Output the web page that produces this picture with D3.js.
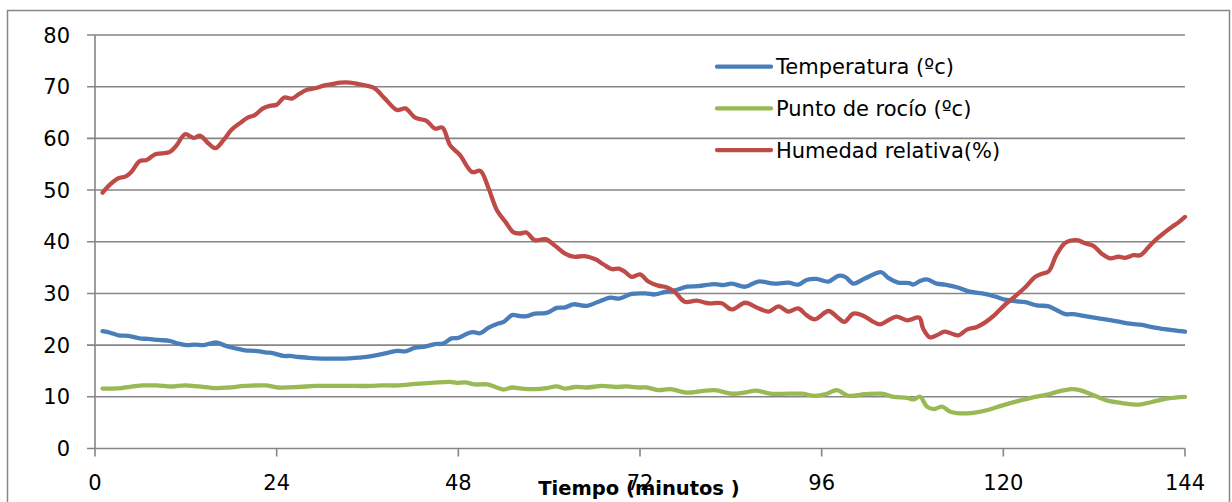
<!DOCTYPE html>
<html>
<head>
<meta charset="utf-8">
<script src="https://cdn.jsdelivr.net/npm/d3@7"></script>
<style>
  html, body { margin: 0; padding: 0; background: #fff; }
  svg { display: block; }
  text { font-family: "DejaVu Sans", sans-serif; fill: #000; }
</style>
</head>
<body>
<svg id="chart" width="1232" height="502"></svg>
<script>
// Temperatura (ºc)
const tempMin = [1,2,3.1,4.4,5.9,7,8.4,9.9,11,12.1,13.2,14.3,15.2,16.1,17.2,18.5,19.8,21.1,22.5,23.6,24.9,25.8,26.9,28.6,30.8,33,34.8,36.3,38.3,39.9,41,42.3,43.6,44.9,46,47.1,48,49.3,50,50.9,52,53.1,54,55.1,56.2,57,58.1,59.5,60.1,61,62.1,63.2,65,66.5,68.1,69.2,70.9,72.7,74,75.3,76.6,78.2,79.7,81.9,83,84.1,85.9,87.6,89.8,91.6,92.9,94,95.3,96.9,98.2,99.1,100.2,101.7,103.9,104.8,106.1,107.6,108.1,109,109.9,111.2,112.3,114.1,115.4,117.2,118.9,120.2,121.6,122.9,124.4,126,127,128.2,129.3,130.8,132.4,134.3,135.7,137,138.3,140,142.3,144];
const tempVal = [22.7,22.4,21.9,21.8,21.3,21.2,21.0,20.8,20.3,20.0,20.1,20.0,20.3,20.5,19.9,19.4,19.0,18.9,18.6,18.4,17.9,17.9,17.7,17.5,17.4,17.4,17.6,17.8,18.4,18.9,18.8,19.5,19.7,20.2,20.3,21.3,21.4,22.3,22.5,22.3,23.4,24.1,24.5,25.8,25.6,25.6,26.1,26.2,26.5,27.2,27.3,27.9,27.6,28.4,29.2,29.0,29.9,30.0,29.8,30.3,30.6,31.3,31.4,31.8,31.6,31.9,31.3,32.3,31.9,32.1,31.7,32.6,32.8,32.3,33.4,33.2,31.9,32.9,34.1,33.0,32.1,32.0,31.7,32.4,32.7,31.9,31.7,31.1,30.4,30.0,29.4,28.8,28.5,28.3,27.7,27.5,26.8,26.0,26.0,25.6,25.2,24.8,24.4,24.1,23.9,23.4,22.9,22.6];

// Punto de rocío (ºc)
const dewMin = [1,3.5,6.2,8.1,10.1,11.9,13.7,15.9,17.6,19.8,22.5,24.2,26.9,29.1,31.7,34.4,36.5,37.9,40.1,42.3,44.5,46.9,47.8,48.9,50.2,51.8,52.9,54,55.1,56.4,58.1,59.7,61,62.1,63.4,65,67,68.7,70.2,72,72.9,74.4,76,78.2,80.1,81.9,84.1,85.7,87.4,89.2,91.6,93.4,95.1,96.7,98,99.5,101.7,103.9,105.5,107.3,108.1,109,109.9,110.8,111.9,113,114.3,116,117.8,119.8,122,124.2,126,127.5,129,130.1,132.1,133.9,135.7,137.9,139.6,141.8,144];
const dewVal = [11.6,11.7,12.2,12.2,12.0,12.2,12.0,11.7,11.8,12.1,12.2,11.8,11.9,12.1,12.1,12.1,12.1,12.2,12.2,12.5,12.7,12.9,12.7,12.8,12.4,12.4,11.9,11.4,11.8,11.6,11.5,11.7,12.0,11.6,11.9,11.8,12.1,11.9,12.0,11.8,11.8,11.3,11.5,10.8,11.1,11.3,10.6,10.8,11.2,10.6,10.6,10.6,10.2,10.6,11.3,10.2,10.5,10.6,10.0,9.8,9.5,10.0,8.1,7.6,8.1,7.1,6.8,6.9,7.4,8.3,9.2,10.0,10.5,11.1,11.5,11.3,10.2,9.2,8.8,8.5,9.0,9.7,10.0];

// Humedad relativa(%)
const humMin = [1,2,3.1,4,4.8,5.9,6.8,7.9,8.8,9.9,10.8,11.9,13,13.9,15,15.9,17,18,19.2,20.3,21.1,22.2,23.1,24,25,26,26.9,28,29.1,30.2,31.3,32.4,33.7,34.8,36.8,38.3,39.9,41,42.3,43.8,44.9,45.9,46.9,48.2,49.8,50.9,52,53.1,54.2,55.3,56.2,57,58.1,59.5,60.8,62.1,63.2,64.7,66.1,67.2,68.3,69.2,70,70.9,72,73.1,74.4,75.5,76.6,77.9,79.5,81,82.8,84.1,85.9,87.4,89,90.3,91.6,92.9,94,95.1,96.9,98,99,100.2,101.5,102.6,103.7,104.8,105.9,107.3,108.9,109.4,110.3,111.2,112.2,113.2,114.1,115.2,116.5,117.6,118.9,120.2,121.6,122.9,124.2,125.1,126,127,128.2,129.7,130.8,131.9,133,134.1,135.2,136.1,137.2,138.1,139.2,140.3,141.4,142.3,143.1,144];
const humVal = [49.5,51.1,52.3,52.6,53.5,55.6,55.8,56.9,57.1,57.4,58.7,60.8,60.1,60.5,59.0,58.1,59.7,61.6,63.0,64.1,64.5,65.8,66.3,66.5,67.9,67.7,68.5,69.4,69.7,70.2,70.5,70.8,70.8,70.5,69.8,67.7,65.5,65.8,64.0,63.4,61.9,62.1,58.7,56.8,53.5,53.7,50.3,46.1,43.9,41.8,41.6,41.8,40.3,40.5,39.2,37.7,37.1,37.2,36.6,35.6,34.7,34.8,34.2,33.2,33.7,32.3,31.5,31.2,30.3,28.4,28.6,28.1,28.1,26.9,28.2,27.3,26.5,27.5,26.5,27.1,25.8,25.0,26.6,25.5,24.5,26.1,25.7,24.7,24.0,24.8,25.5,24.8,25.3,23.2,21.5,21.9,22.6,22.2,21.9,23.0,23.5,24.4,25.9,27.8,29.5,31.2,33.2,33.8,34.3,37.4,39.8,40.3,39.7,39.2,37.7,36.8,37.1,36.9,37.4,37.4,39.0,40.6,41.9,42.9,43.7,44.8];

const yTicks = [0, 10, 20, 30, 40, 50, 60, 70, 80];
const xTicks = [0, 24, 48, 72, 96, 120, 144];

const series = [
  { name: "Temperatura (ºc)", color: "#4A7EBB", x: tempMin, y: tempVal },
  { name: "Punto de rocío (ºc)", color: "#98B954", x: dewMin, y: dewVal },
  { name: "Humedad relativa(%)", color: "#BE4B48", x: humMin, y: humVal }
];

const svg = d3.select("#chart");
const gridColor = "#868686";

// chart frame
svg.append("rect")
  .attr("x", 7.5).attr("y", 10.5)
  .attr("width", 1222).attr("height", 500)
  .attr("fill", "#fff").attr("stroke", gridColor).attr("stroke-width", 1.5);

const x = d3.scaleLinear().domain([0, 144]).range([95, 1185]);
const y = d3.scaleLinear().domain([0, 80]).range([448.5, 35]);

// horizontal gridlines with outward tick stubs
svg.append("g")
  .selectAll("line")
  .data(yTicks)
  .join("line")
  .attr("x1", 87).attr("x2", x(144))
  .attr("y1", d => y(d)).attr("y2", d => y(d))
  .attr("stroke", gridColor).attr("stroke-width", 1.6);

// value axis line
svg.append("line")
  .attr("x1", x(0)).attr("x2", x(0))
  .attr("y1", y(80)).attr("y2", y(0))
  .attr("stroke", gridColor).attr("stroke-width", 1.6);

// y tick labels
svg.append("g")
  .selectAll("text")
  .data(yTicks)
  .join("text")
  .attr("x", 70).attr("y", d => y(d))
  .attr("dy", "0.36em")
  .attr("text-anchor", "end")
  .style("font-size", "21px")
  .text(d => d);

// x axis tick marks
svg.append("g")
  .selectAll("line")
  .data(xTicks)
  .join("line")
  .attr("x1", d => x(d)).attr("x2", d => x(d))
  .attr("y1", y(0)).attr("y2", y(0) + 8)
  .attr("stroke", gridColor).attr("stroke-width", 1.6);

// x tick labels
svg.append("g")
  .selectAll("text")
  .data(xTicks)
  .join("text")
  .attr("x", d => x(d)).attr("y", 490)
  .attr("text-anchor", "middle")
  .style("font-size", "21px")
  .text(d => d);

// series lines
const line = d3.line()
  .x(d => x(d[0]))
  .y(d => y(d[1]))
  .curve(d3.curveCatmullRom.alpha(0.5));

svg.append("g")
  .selectAll("path")
  .data(series)
  .join("path")
  .attr("d", s => line(s.x.map((m, i) => [m, s.y[i]])))
  .attr("fill", "none")
  .attr("stroke", s => s.color)
  .attr("stroke-width", 4.3)
  .attr("stroke-linejoin", "round")
  .attr("stroke-linecap", "round");

// legend
const legend = svg.append("g")
  .selectAll("g")
  .data(series)
  .join("g")
  .attr("transform", (s, i) => `translate(717, ${66.7 + i * 41.7})`);

legend.append("line")
  .attr("x1", 0).attr("x2", 54)
  .attr("stroke", s => s.color)
  .attr("stroke-width", 4.3)
  .attr("stroke-linecap", "round");

legend.append("text")
  .attr("x", 59).attr("dy", "0.36em")
  .style("font-size", "21px")
  .text(s => s.name);

// axis title
svg.append("text")
  .attr("x", 639).attr("y", 495)
  .attr("text-anchor", "middle")
  .style("font-size", "19.5px")
  .style("font-weight", "bold")
  .text("Tiempo (minutos )");
</script>
</body>
</html>
